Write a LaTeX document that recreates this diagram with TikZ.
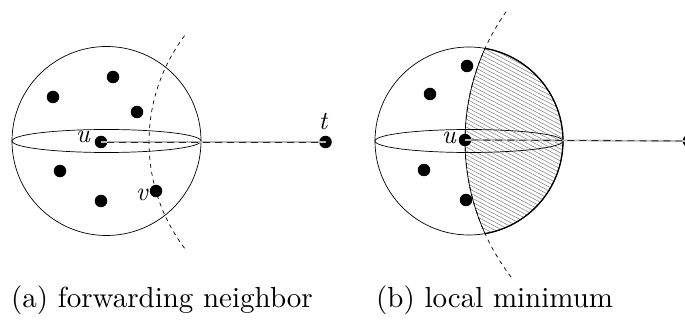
\documentclass[tikz,border=0pt]{standalone}
\usepackage{fontspec}
\setmainfont{lmroman10-regular.otf}[ItalicFont=lmroman10-italic.otf]
\usetikzlibrary{calc}
\begin{document}
\begin{tikzpicture}[x=1pt,y=-1pt,
  dotnode/.style={circle,fill=black,inner sep=0pt,minimum size=12.5pt},
  lbl/.style={inner sep=0pt,font=\fontsize{26}{26}\selectfont\itshape},
  captext/.style={inner sep=0pt,font=\fontsize{29}{31}\selectfont},
  thinline/.style={line width=0.7pt},
  arcdash/.style={line width=0.7pt,dash pattern=on 4pt off 4pt},
  hatchline/.style={gray!90,line width=0.6pt},
  linkbase/.style={gray!55,line width=1.8pt},
  linkdash/.style={black!85,line width=0.9pt,dash pattern=on 7pt off 5pt}]
\useasboundingbox (0,0) rectangle (685,320);

% ---------- panel (a) ----------
\draw[thinline] (106.5,141) circle[radius=94.5];
\draw[thinline] (106.5,141) ellipse[x radius=94.5,y radius=11.5];
\draw[arcdash] ($(325.5,142)+(143:176.5)$) arc[start angle=143,end angle=217.5,radius=176.5];
\node[dotnode] (ua) at (101,142) {};
\node[dotnode] (ta) at (325.5,142) {};
\node[dotnode] (va) at (156,191) {};
\node[dotnode] (a1) at (113,77) {};
\node[dotnode] (a2) at (53,97) {};
\node[dotnode] (a3) at (137,112) {};
\node[dotnode] (a4) at (60,171) {};
\node[dotnode] (a5) at (101,201) {};
\draw[linkbase] (ua.center) -- (ta.center);
\draw[linkdash] (ua.east) -- (ta.west);
\node[lbl,anchor=base east] (lua) at (90,143) {u};
\node[lbl,anchor=base] (lta) at (323,130) {t};
\node[lbl,anchor=base east] (lva) at (148,201) {v};

% ---------- panel (b) ----------
\begin{scope}
  \clip (469,141) circle[radius=94];
  \clip (689,141) circle[radius=224];
  \foreach \k in {-40,...,70} {
    \draw[hatchline] (370,\k*4) -- (570,\k*4+106);
  }
\end{scope}
\draw[thinline] (469,141) circle[radius=94];
\draw[thinline] (469,141) ellipse[x radius=94,y radius=11.5];
\draw[line width=1.3pt] ($(469,141)+(-80.2:94)$) arc[start angle=-80.2,end angle=80.2,radius=94];
\draw[arcdash] ($(689,141)+(142.6:224)$) arc[start angle=142.6,end angle=215.4,radius=224];
\draw[thinline] ($(689,141)+(155.6:224)$) arc[start angle=155.6,end angle=204.4,radius=224];
\node[dotnode] (ub) at (465,140) {};
\node[dotnode] (tb) at (689,141) {};
\node[dotnode] (b1) at (467,66) {};
\node[dotnode] (b2) at (430,94) {};
\node[dotnode] (b3) at (424,170) {};
\node[dotnode] (b4) at (466,200) {};
\draw[linkbase] (ub.center) -- (tb.center);
\draw[linkdash] (ub.east) -- (tb.west);
\node[lbl,anchor=base east] (lub) at (456,144) {u};
\node[lbl,anchor=base] (ltb) at (688,128) {t};

% ---------- captions ----------
\node[captext,anchor=base west] (capa) at (11,307) {(a) forwarding neighbor};
\node[captext,anchor=base west] (capb) at (376,307) {(b) local minimum};
\end{tikzpicture}
\end{document}
